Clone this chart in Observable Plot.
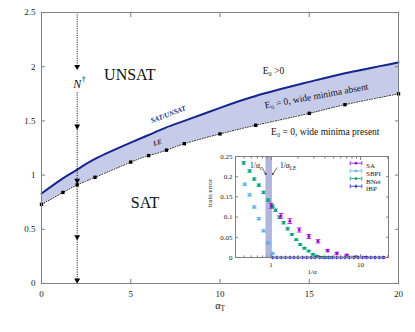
<!DOCTYPE html>
<html><head><meta charset="utf-8">
<script src="https://cdn.jsdelivr.net/npm/d3@7"></script>
<script src="https://cdn.jsdelivr.net/npm/@observablehq/plot@0.6"></script>
<style>
body{margin:0;background:#fff}
#wrap{position:relative;width:415px;height:332px}
#inset{position:absolute;left:195px;top:145px}
</style>
</head><body><div id="wrap"></div>
<script>
// ---------- main chart data ----------
const alphaT = [0, 1.2, 2, 3, 5, 6, 7, 8, 10, 12, 15, 17, 20];
const lineLE = [0.73, 0.84, 0.91, 0.98, 1.12, 1.18, 1.23, 1.29, 1.38, 1.46, 1.57, 1.65, 1.75];
const lineSatUnsat = [0.83, 0.97, 1.05, 1.15, 1.30, 1.37, 1.44, 1.50, 1.62, 1.73, 1.86, 1.94, 2.04];
const arrowAlpha = 2;
const arrowLevels = [2.0, 1.45, 0.95, 0.43, 0.03];
const arrowSegments = [[2.5, 2.0], [1.76, 0]];
const mainXTicks = [0, 5, 10, 15, 20];
const mainYTicks = [0, 0.5, 1, 1.5, 2, 2.5];

// ---------- inset data ----------
const saX = [1.0, 1.29, 1.62, 2.06, 2.64, 3.34, 4.28, 5.42, 7.0, 8.9, 11.4, 14.5, 18.3];
const saY = [0.128, 0.103, 0.090, 0.068, 0.052, 0.040, 0.017, 0.010, 0.006, 0.002, 0.001, 0, 0];
const saErr = [0.006, 0.006, 0.006, 0.005, 0.005, 0.004, 0.003, 0.003, 0.002, 0.001, 0.001, 0, 0];
const sbpiX = [0.507, 0.575, 0.648, 0.730, 0.823, 0.927, 1.04];
const sbpiY = [0.181, 0.155, 0.125, 0.096, 0.066, 0.036, 0.010];
const sbpiErr = [0.003, 0.003, 0.003, 0.003, 0.003, 0.003, 0.002];
const bnetX = [0.494, 0.575, 0.648, 0.730, 0.823, 0.927, 1.04, 1.12, 1.24, 1.38, 1.53, 1.71, 1.91, 2.11, 2.36, 2.63, 2.94, 3.26, 3.64, 4.1, 4.6];
const bnetY = [0.234, 0.214, 0.194, 0.179, 0.161, 0.142, 0.127, 0.117, 0.100, 0.086, 0.071, 0.057, 0.044, 0.032, 0.023, 0.016, 0.008, 0.004, 0.001, 0, 0];
const bnetErr = [0.003, 0.003, 0.003, 0.003, 0.003, 0.003, 0.003, 0.003, 0.003, 0.003, 0.003, 0.002, 0.002, 0.002, 0.002, 0.002, 0.002, 0.001, 0.001, 0, 0];
const fbpX = [1.04, 1.16, 1.3, 1.45, 1.62, 1.8, 2.0, 2.25, 2.5, 2.8, 3.1, 3.5, 3.9, 4.35, 4.85, 5.4, 6.0, 6.7, 7.5, 8.4, 9.4, 10.5, 11.7, 13.0, 14.5, 16.2, 17.8];
const fbpY = [0, 0, 0, 0, 0, 0, 0, 0, 0, 0, 0, 0, 0, 0, 0, 0, 0, 0, 0, 0, 0, 0, 0, 0, 0, 0, 0];
const fbpErr = [0.001, 0.001, 0.001, 0.001, 0.001, 0.001, 0.001, 0.001, 0.001, 0.001, 0.001, 0.001, 0.001, 0.001, 0.001, 0.001, 0.001, 0.001, 0.001, 0.001, 0.001, 0.001, 0.001, 0.001, 0.001, 0.001, 0.001];
const invAlphaBand = [0.875, 1.035]; // 1/alpha_c .. 1/alpha_LE region
const insetXTicks = [1, 10];
const insetXMinor = [0.4, 0.5, 0.6, 0.7, 0.8, 0.9, 2, 3, 4, 5, 6, 7, 8, 9, 20];
const insetYTicks = [0, 0.05, 0.1, 0.15, 0.2, 0.25];
const seriesNames = ["SA", "SBPI", "BNet", "fBP"];
const seriesColors = ["#9400d3", "#56b4e9", "#009e73", "#2a2ae8"];

const FONT = "'Liberation Serif', 'DejaVu Serif', serif";

// ---------- main chart ----------
const band = alphaT.map((a, i) => ({a, lo: lineLE[i], hi: lineSatUnsat[i]}));

const main = Plot.plot({
  width: 415, height: 332,
  marginLeft: 41, marginRight: 17, marginTop: 12, marginBottom: 49,
  x: {domain: [0, 20]},
  y: {domain: [0, 2.5]},
  style: {fontFamily: FONT, fontSize: "9px", color: "#222", background: "transparent"},
  marks: [
    Plot.areaY(band, {x: "a", y1: "lo", y2: "hi", fill: "#c6cbea", curve: "natural"}),
    Plot.line(band, {x: "a", y: "lo", stroke: "#000", strokeWidth: 0.9, strokeDasharray: "1,1.6", curve: "natural"}),
    Plot.dot(band, {x: "a", y: "lo", symbol: "square", fill: "#000", r: 1.9}),
    Plot.line(band, {x: "a", y: "hi", stroke: "#15268e", strokeWidth: 2, curve: "natural"}),
    Plot.ruleX(arrowSegments, {x: () => arrowAlpha, y1: d => d[0], y2: d => d[1], stroke: "#000", strokeWidth: 1, strokeDasharray: "1,1.3"}),
    Plot.dot(arrowLevels, {x: () => arrowAlpha, y: d => d, symbol: "triangle", rotate: 180, fill: "#000", r: 2.2}),
    Plot.text(["N"], {x: arrowAlpha, y: 1.84, fontSize: 12, fontStyle: "italic", fill: "#111"}),
    Plot.text(["†"], {x: arrowAlpha, y: 1.84, dx: 6.5, dy: -5, fontSize: 8, fill: "#111"}),
    Plot.text(["UNSAT"], {x: 4.95, y: 1.92, fontSize: 16, fill: "#111"}),
    Plot.text(["SAT"], {x: 5.8, y: 0.74, fontSize: 16, fill: "#111"}),
    Plot.text(["E₀ >0"], {x: 13.0, y: 1.965, fontSize: 9.5, fill: "#111"}),
    Plot.text(["E₀ = 0, wide minima absent"], {x: 15.4, y: 1.73, fontSize: 9.5, rotate: -10.5, fill: "#111"}),
    Plot.text(["E₀ = 0, wide minima present"], {x: 15.9, y: 1.40, fontSize: 9.5, fill: "#111"}),
    Plot.text(["SAT/UNSAT"], {x: 7.1, y: 1.56, fontSize: 7, fontWeight: "bold", fontStyle: "italic", rotate: -21, fill: "#15268e"}),
    Plot.text(["LE"], {x: 6.5, y: 1.30, fontSize: 7, fontWeight: "bold", fontStyle: "italic", rotate: -18, fill: "#222"}),
    Plot.frame({stroke: "#808080"}),
    Plot.axisX(mainXTicks, {anchor: "bottom", tickSize: -4, tickPadding: 11.5, tickFormat: d => String(d), label: null, stroke: "#808080"}),
    Plot.axisX(mainXTicks, {anchor: "top", tickSize: -4, tickFormat: () => "", label: null, stroke: "#808080"}),
    Plot.axisY(mainYTicks, {anchor: "left", tickSize: -4, tickPadding: 10, tickFormat: d => String(d), label: null, stroke: "#808080"}),
    Plot.axisY(mainYTicks, {anchor: "right", tickSize: -4, tickFormat: () => "", label: null, stroke: "#808080"}),
    Plot.text(["α_T"], {frameAnchor: "bottom", dy: 25, fontSize: 10, fill: "#111"})
  ]
});

// ---------- inset ----------
function series(xs, ys, es) { return xs.map((x, i) => ({x, y: ys[i], e: es[i]})); }
const sa = series(saX, saY, saErr);
const sbpi = series(sbpiX, sbpiY, sbpiErr);
const bnet = series(bnetX, bnetY, bnetErr);
const fbp = series(fbpX, fbpY, fbpErr);

const capSymbol = {draw(ctx, size) { const w = Math.sqrt(size / Math.PI); ctx.moveTo(-w, 0); ctx.lineTo(w, 0); }};
const legendSymbol = {draw(ctx, size) {
  const w = Math.sqrt(size / Math.PI);
  ctx.moveTo(-w, 0); ctx.lineTo(w, 0);
  ctx.moveTo(-w, -2); ctx.lineTo(-w, 2);
  ctx.moveTo(w, -2); ctx.lineTo(w, 2);
}};

function errMarks(data, color, symbol, r) {
  const withErr = data.filter(d => d.e > 0);
  return [
    Plot.ruleX(withErr, {x: "x", y1: d => d.y - d.e, y2: d => d.y + d.e, stroke: color, strokeWidth: 0.8}),
    Plot.dot(withErr, {x: "x", y: d => d.y + d.e, symbol: capSymbol, stroke: color, strokeWidth: 0.8, r: 2.4}),
    Plot.dot(withErr, {x: "x", y: d => d.y - d.e, symbol: capSymbol, stroke: color, strokeWidth: 0.8, r: 2.4}),
    Plot.dot(data, {x: "x", y: "y", symbol, fill: color, r})
  ];
}

const legendSymbols = ["circle", "triangle", "circle", "diamond"];
const legendMarks = seriesNames.flatMap((name, i) => [
  Plot.dot([name], {frameAnchor: "top-right", dx: -32.5, dy: 6.7 + i * 7.7, symbol: legendSymbol, stroke: seriesColors[i], strokeWidth: 0.8, r: 5.8}),
  Plot.dot([name], {frameAnchor: "top-right", dx: -32.5, dy: 6.7 + i * 7.7, symbol: legendSymbols[i], fill: seriesColors[i], r: 1.3}),
  Plot.text([name], {frameAnchor: "top-right", dx: -22.5, dy: 6.9 + i * 7.7, textAnchor: "start", fontSize: 7, fill: "#222"})
]);

const inset = Plot.plot({
  width: 200, height: 140,
  marginLeft: 40, marginRight: 7, marginTop: 11, marginBottom: 28,
  x: {type: "log", domain: [0.4, 20.5]},
  y: {domain: [0, 0.25]},
  style: {fontFamily: FONT, fontSize: "7px", color: "#222", background: "transparent"},
  marks: [
    Plot.rect([invAlphaBand], {x1: d => d[0], x2: d => d[1], fill: "#b2b6de"}),
    ...errMarks(sbpi, seriesColors[1], "triangle", 1.5),
    ...errMarks(bnet, seriesColors[2], "circle", 1.4),
    ...errMarks(sa, seriesColors[0], "circle", 1.4),
    ...errMarks(fbp, seriesColors[3], "diamond", 1.3),
    Plot.text(["1/α_c"], {x: 0.68, y: 0.228, fontSize: 7.5, fill: "#111"}),
    Plot.text(["1/α_{LE}"], {x: 1.55, y: 0.228, fontSize: 7.5, fill: "#111"}),
    Plot.arrow([invAlphaBand], {x1: () => 0.8, y1: () => 0.222, x2: d => d[0], y2: () => 0.205, stroke: "#111", strokeWidth: 0.6, headLength: 4}),
    Plot.arrow([invAlphaBand], {x1: () => 1.16, y1: () => 0.222, x2: d => d[1], y2: () => 0.205, stroke: "#111", strokeWidth: 0.6, headLength: 4}),
    ...legendMarks,
    Plot.frame({stroke: "#808080"}),
    Plot.axisX(insetXTicks, {anchor: "bottom", tickSize: -3, tickPadding: 8, tickFormat: d => String(d), label: null, stroke: "#808080"}),
    Plot.axisX(insetXMinor, {anchor: "bottom", tickSize: -1.6, tickFormat: () => "", label: null, stroke: "#808080"}),
    Plot.axisX(insetXTicks, {anchor: "top", tickSize: -3, tickFormat: () => "", label: null, stroke: "#808080"}),
    Plot.axisX(insetXMinor, {anchor: "top", tickSize: -1.6, tickFormat: () => "", label: null, stroke: "#808080"}),
    Plot.axisY(insetYTicks, {anchor: "left", tickSize: -3, tickPadding: 6, tickFormat: d => String(d), label: null, stroke: "#808080"}),
    Plot.axisY(insetYTicks, {anchor: "right", tickSize: -3, tickFormat: () => "", label: null, stroke: "#808080"}),
    Plot.text(["train error"], {frameAnchor: "left", dx: -26, rotate: -90, fontSize: 7, fill: "#222"}),
    Plot.text(["1/α"], {frameAnchor: "bottom", dy: 16, fontSize: 7, fill: "#222"})
  ]
});
inset.id = "inset";

// subscripts: "a_b" or "a_{bc}"
function subscripts(svg) {
  const ns = "http://www.w3.org/2000/svg";
  svg.querySelectorAll("text, tspan").forEach(t => {
    if (t.children.length) return;
    const m = t.textContent.match(/^(.*?)_\{?([A-Za-z0-9]+)\}?(.*)$/);
    if (!m) return;
    t.textContent = "";
    const a = document.createElementNS(ns, "tspan"); a.textContent = m[1]; t.appendChild(a);
    const b = document.createElementNS(ns, "tspan"); b.textContent = m[2];
    b.setAttribute("dy", "0.35em"); b.setAttribute("font-size", "72%"); t.appendChild(b);
    if (m[3]) { const c = document.createElementNS(ns, "tspan"); c.textContent = m[3]; c.setAttribute("dy", "-0.35em"); t.appendChild(c); }
  });
}
subscripts(main); subscripts(inset);

const wrap = document.getElementById("wrap");
wrap.appendChild(main);
wrap.appendChild(inset);
</script></body></html>
